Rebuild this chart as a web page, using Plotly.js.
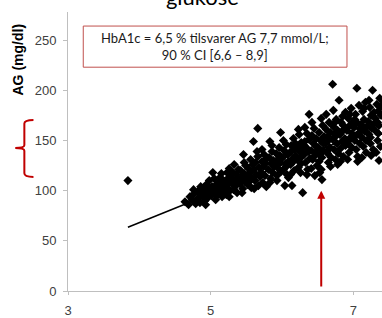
<!DOCTYPE html>
<html>
<head>
<meta charset="utf-8">
<script src="https://cdn.plot.ly/plotly-3.0.1.min.js"></script>
<style>html,body{margin:0;padding:0;background:#fff;}#chart{width:382px;height:318px;}</style>
</head>
<body>
<div id="chart"></div>
<script>
var scatterPoints = [
[3.84,110],
[4.64,89],[4.69,86],[4.71,94],[4.74,91],[4.77,97],[4.79,87],[4.76,101],
[4.81,91],[4.82,99],[4.85,88],[4.86,104],[4.88,95],[4.84,93],[4.89,101],
[4.91,97],[4.92,90],[4.94,106],[4.95,100],[4.96,93],[4.98,110],[4.99,98],[4.93,86],[4.97,103],
[5.01,95],[5.02,104],[5.04,98],[5.05,112],[5.07,91],[5.08,106],[5.09,100],[5.03,118],[5.10,96],[5.06,102],
[5.11,108],[5.12,97],[5.14,103],[5.15,117],[5.16,94],[5.18,110],[5.19,101],[5.13,113],[5.17,106],[5.20,99],
[5.21,104],[5.22,96],[5.24,112],[5.25,107],[5.26,122],[5.27,100],[5.28,115],[5.29,109],[5.23,118],[5.26,94],
[5.31,111],[5.32,101],[5.33,126],[5.35,107],[5.36,116],[5.37,98],[5.38,112],[5.39,121],[5.34,104],[5.31,118],
[5.41,107],[5.42,120],[5.43,113],[5.45,102],[5.46,136],[5.47,117],[5.48,109],[5.49,125],[5.44,98],[5.47,128],
[5.51,114],[5.52,106],[5.53,122],[5.55,118],[5.56,131],[5.57,103],[5.58,112],[5.59,126],[5.60,149],[5.54,109],
[5.61,121],[5.62,110],[5.63,128],[5.64,116],[5.66,162],[5.66,134],[5.67,105],[5.68,123],[5.69,114],[5.65,139],[5.61,102],
[5.71,118],[5.72,129],[5.73,108],[5.74,124],[5.75,136],[5.76,115],[5.77,127],[5.78,104],[5.79,132],[5.72,141],
[5.81,121],[5.82,133],[5.83,149],[5.84,112],[5.85,127],[5.86,139],[5.87,118],[5.88,130],[5.89,124],[5.83,108],[5.86,145],
[5.91,126],[5.92,137],[5.93,115],[5.94,131],[5.95,122],[5.96,143],[5.97,128],[5.98,158],[5.99,119],[5.93,110],[5.97,135],
[6.01,133],[6.02,121],[6.03,140],[6.04,105],[6.05,127],[6.06,146],[6.07,116],[6.08,136],[6.09,129],[6.02,150],[6.06,124],[6.09,113],
[6.11,138],[6.12,126],[6.13,145],[6.14,105],[6.15,132],[6.16,152],[6.17,120],[6.18,141],[6.19,135],[6.12,116],[6.16,129],[6.19,147],
[6.21,131],[6.22,144],[6.23,123],[6.24,156],[6.25,139],[6.26,118],[6.27,148],[6.28,134],[6.29,98],[6.23,161],[6.27,127],[6.29,142],
[6.31,136],[6.32,149],[6.33,128],[6.34,143],[6.35,157],[6.36,121],[6.37,139],[6.38,176],[6.39,132],[6.32,163],[6.35,116],[6.38,151],[6.31,145],
[6.41,140],[6.42,155],[6.43,131],[6.44,147],[6.45,162],[6.46,115],[6.47,138],[6.48,152],[6.49,125],[6.42,168],[6.45,134],[6.48,144],[6.41,122],
[6.51,143],[6.52,158],[6.53,136],[6.54,150],[6.55,121],[6.56,111],[6.57,165],[6.58,140],[6.59,154],[6.52,129],[6.55,172],[6.58,147],[6.53,118],[6.56,133],
[6.61,147],[6.62,161],[6.63,139],[6.64,154],[6.65,128],[6.66,168],[6.67,143],[6.68,158],[6.69,133],[6.62,176],[6.65,150],[6.68,124],[6.71,206],[6.64,137],
[6.71,151],[6.72,164],[6.73,141],[6.74,157],[6.75,131],[6.76,171],[6.77,147],[6.78,160],[6.79,137],[6.72,180],[6.75,154],[6.80,190],[6.78,126],[6.74,168],
[6.81,156],[6.82,142],[6.83,168],[6.84,149],[6.85,174],[6.86,134],[6.87,161],[6.88,152],[6.89,178],[6.82,129],[6.86,165],[6.89,145],[6.84,159],
[6.91,160],[6.92,147],[6.93,172],[6.94,138],[6.95,165],[6.96,153],[6.97,182],[6.98,143],[6.99,168],[6.92,131],[6.95,176],[6.98,157],[6.94,150],
[7.01,163],[7.02,150],[7.03,176],[7.04,141],[7.05,202],[7.05,168],[7.06,134],[7.07,157],[7.08,185],[7.09,147],[7.02,171],[7.06,129],[7.09,162],[7.04,155],
[7.11,166],[7.12,153],[7.13,179],[7.14,144],[7.15,171],[7.16,159],[7.17,188],[7.18,138],[7.19,164],[7.12,133],[7.15,182],[7.18,150],[7.14,161],
[7.21,169],[7.22,156],[7.23,183],[7.24,147],[7.25,175],[7.26,162],[7.27,200],[7.28,141],[7.29,178],[7.22,190],[7.25,135],[7.28,166],[7.24,153],
[7.31,172],[7.32,159],[7.33,186],[7.34,150],[7.35,179],[7.36,165],[7.37,192],[7.38,144],[7.39,175],[7.32,138],[7.35,157],[7.38,184],[7.41,190],[7.34,168],[7.36,130]
];
var hba1c = scatterPoints.map(function(p){return p[0];});
var ag = scatterPoints.map(function(p){return p[1];});

// regression line end points (HbA1c, AG)
var lineHbA1c = [3.84, 7.45];
var lineAG = [63.5, 167.1];

// texts and annotation anchors
var titleText = 'glukose';
var yTitle = 'AG (mg/dl)';
var boxText = 'HbA1c = 6,5 % tilsvarer AG 7,7 mmol/L;<br>90 % CI [6,6 – 8,9]';
var boxX = [3.214, 6.911];
var boxY = [223, 264];
var arrowHbA1c = 6.55;
var arrowAG = [3, 100];
var xTicks = [3, 5, 7];
var yTicks = [0, 50, 100, 150, 200, 250];

var traces = [
  {x: lineHbA1c, y: lineAG, type: 'scatter', mode: 'lines',
   line: {color: '#000', width: 1.5}, hoverinfo: 'skip'},
  {x: hba1c, y: ag, type: 'scatter', mode: 'markers',
   marker: {symbol: 'diamond', size: 7, color: '#000', line: {width: 0}}}
];

var layout = {
  width: 382, height: 318,
  margin: {l: 68, r: 0, t: 12, b: 27},
  paper_bgcolor: '#fff', plot_bgcolor: '#fff',
  showlegend: false,
  title: {text: titleText, font: {family: 'Lato, sans-serif', size: 22, color: '#000'},
          x: 0.53, xref: 'container', xanchor: 'center', y: 0.985, yref: 'container', yanchor: 'bottom'},
  xaxis: {range: [3, 7.402], tickvals: xTicks, ticktext: xTicks.map(String),
          showgrid: false, zeroline: false, showline: true, linecolor: '#bfbfbf', linewidth: 1,
          ticks: 'outside', ticklen: 3, tickcolor: '#bfbfbf', ticklabelstandoff: 4,
          tickfont: {family: 'Arial, Liberation Sans, sans-serif', size: 13, color: '#404040'}},
  yaxis: {range: [0, 278], tickvals: yTicks, ticktext: yTicks.map(String),
          showgrid: false, zeroline: false, showline: true, linecolor: '#bfbfbf', linewidth: 1,
          ticks: 'outside', ticklen: 4, tickcolor: '#bfbfbf', ticklabelstandoff: 4,
          tickfont: {family: 'Arial, Liberation Sans, sans-serif', size: 13, color: '#404040'}},
  shapes: [
    {type: 'rect', xref: 'x', yref: 'y', x0: boxX[0], x1: boxX[1], y0: boxY[0], y1: boxY[1],
     line: {color: '#c0504d', width: 1}, fillcolor: '#fff', layer: 'above'},
    {type: 'path', xref: 'paper', yref: 'paper',
     path: 'M -0.110,0.613 Q -0.139,0.613 -0.139,0.600 L -0.139,0.522 Q -0.139,0.5125 -0.168,0.5125 Q -0.139,0.5125 -0.139,0.503 L -0.139,0.422 Q -0.139,0.409 -0.110,0.409',
     line: {color: '#c00000', width: 2}}
  ],
  annotations: [
    {xref: 'paper', yref: 'paper', x: -0.159, y: 0.83, textangle: -90, showarrow: false,
     xanchor: 'center', yanchor: 'middle', text: yTitle,
     font: {family: 'Arial, Liberation Sans, sans-serif', size: 14, color: '#000', weight: 'bold'}},
    {xref: 'x', yref: 'y', x: (boxX[0] + boxX[1]) / 2, y: (boxY[0] + boxY[1]) / 2,
     text: boxText, showarrow: false, align: 'center',
     font: {family: 'Lato, sans-serif', size: 13, color: '#1a1a1a'}},
    {xref: 'x', yref: 'y', axref: 'x', ayref: 'y', x: arrowHbA1c, y: arrowAG[1], ax: arrowHbA1c, ay: arrowAG[0],
     text: '', showarrow: true, arrowhead: 2, arrowsize: 0.8, arrowwidth: 2, arrowcolor: '#c00000', standoff: 0, startstandoff: 0}
  ]
};

Plotly.newPlot('chart', traces, layout, {displayModeBar: false, staticPlot: true});
</script>
</body>
</html>
